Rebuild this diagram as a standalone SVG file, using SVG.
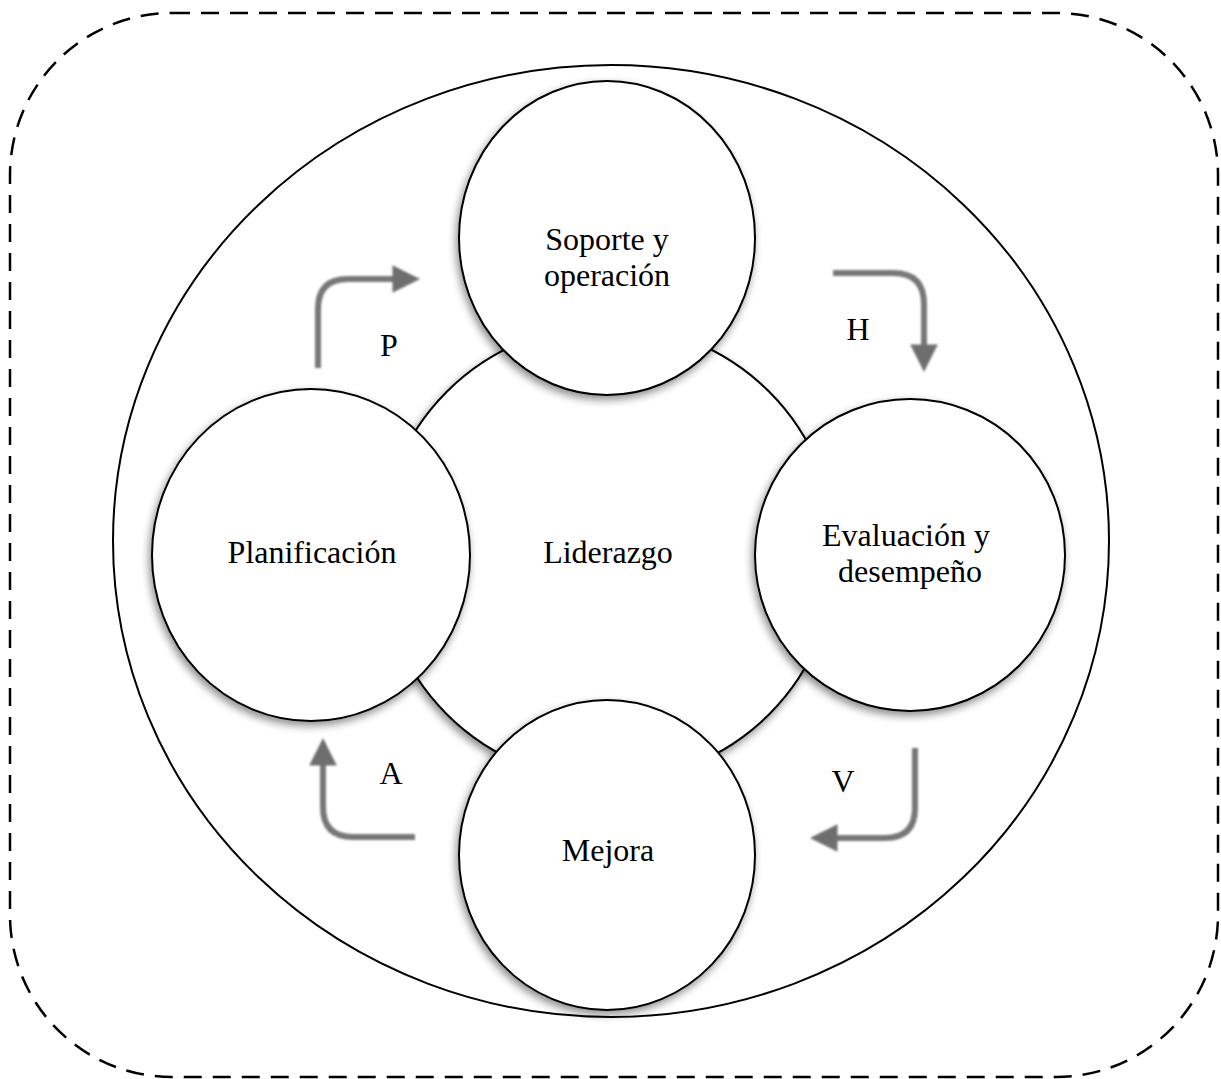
<svg xmlns="http://www.w3.org/2000/svg" width="1221" height="1079" viewBox="0 0 1221 1079">
  <defs>
    <filter id="shadow" x="-20%" y="-20%" width="140%" height="140%">
      <feGaussianBlur in="SourceAlpha" stdDeviation="4"/>
      <feOffset dx="-2" dy="4" result="b"/>
      <feComponentTransfer><feFuncA type="linear" slope="0.45"/></feComponentTransfer>
      <feMerge><feMergeNode/><feMergeNode in="SourceGraphic"/></feMerge>
    </filter>
    <filter id="soft" x="-10%" y="-10%" width="120%" height="120%">
      <feGaussianBlur stdDeviation="0.8"/>
    </filter>
    <marker id="head" viewBox="0 0 10 10" refX="2" refY="5" markerWidth="4.8" markerHeight="4.6" markerUnits="strokeWidth" orient="auto">
      <path d="M0,0 L10,5 L0,10 Z" fill="#6e6e6e"/>
    </marker>
    <style>
      .frame { fill: none; stroke: #000; stroke-width: 2.5; stroke-dasharray: 18 11; }
      .ring { fill: #fff; stroke: #000; stroke-width: 2; }
      .node { fill: #fff; stroke: #000; stroke-width: 2; }
      .arrow { fill: none; stroke: #777; stroke-width: 6; marker-end: url(#head); }
      .label { font-family: "Liberation Serif", "Times New Roman", serif; font-size: 32px; fill: #000; text-anchor: middle; }
    </style>
  </defs>

  <rect width="1221" height="1079" fill="#fff"/>

  <!-- dashed outer frame -->
  <rect class="frame" x="10" y="13" width="1208" height="1064" rx="162" ry="162"/>

  <!-- enclosing circle -->
  <ellipse class="ring" cx="611" cy="541" rx="498" ry="476"/>

  <!-- central node -->
  <g id="liderazgo">
    <circle class="node" cx="608" cy="553" r="228" filter="url(#shadow)"/>
    <text class="label" x="608" y="563">Liderazgo</text>
  </g>

  <g id="soporte">
    <ellipse class="node" cx="607" cy="238" rx="148" ry="157" filter="url(#shadow)"/>
    <text class="label" x="607" y="250">Soporte y</text>
    <text class="label" x="607" y="286">operación</text>
  </g>

  <g id="planificacion">
    <ellipse class="node" cx="311" cy="555" rx="159" ry="166" filter="url(#shadow)"/>
    <text class="label" x="312" y="563">Planificación</text>
  </g>

  <g id="evaluacion">
    <ellipse class="node" cx="910" cy="555" rx="155" ry="156" filter="url(#shadow)"/>
    <text class="label" x="906" y="546">Evaluación y</text>
    <text class="label" x="910" y="582">desempeño</text>
  </g>

  <g id="mejora">
    <ellipse class="node" cx="607" cy="855" rx="148" ry="155" filter="url(#shadow)"/>
    <text class="label" x="608" y="861">Mejora</text>
  </g>

  <!-- PHVA cycle arrows -->
  <g id="connectors" filter="url(#soft)">
    <path class="arrow" d="M318,368 L318,309 Q318,279 348,279 L398,279"/>
    <path class="arrow" d="M833,273 L893,273 Q924,273 924,304 L924,350"/>
    <path class="arrow" d="M915,748 L915,808 Q915,838 885,838 L832,838"/>
    <path class="arrow" d="M415,837 L353,837 Q323,837 323,807 L323,760"/>
  </g>

  <g id="cycle-labels">
    <text class="label" x="389" y="356">P</text>
    <text class="label" x="858" y="340">H</text>
    <text class="label" x="843" y="792">V</text>
    <text class="label" x="391" y="784">A</text>
  </g>
</svg>
